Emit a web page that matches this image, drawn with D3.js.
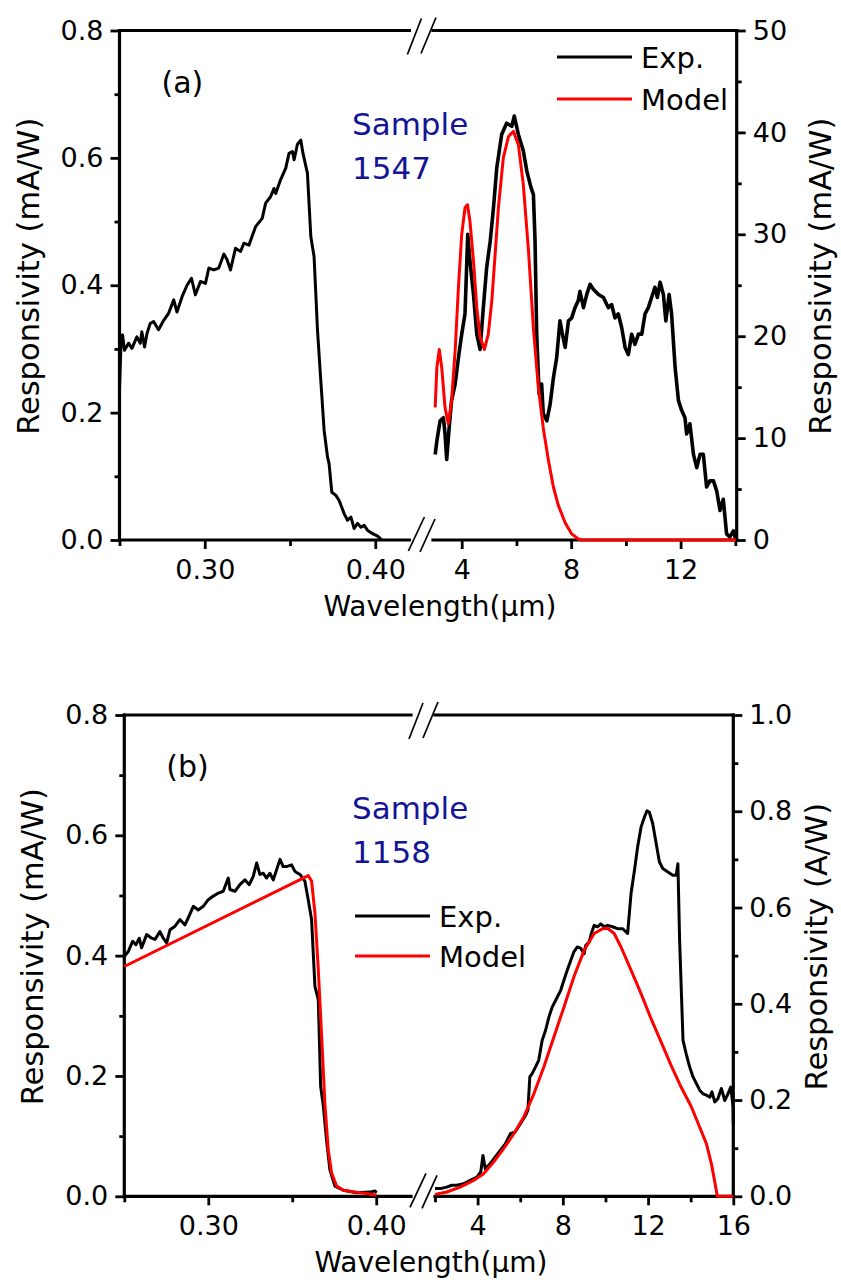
<!DOCTYPE html>
<html><head><meta charset="utf-8">
<script src="https://cdn.jsdelivr.net/npm/d3@7/dist/d3.min.js"></script>
<style>
body{margin:0;background:#fff}
svg{display:block}
text{font-family:"DejaVu Sans",Verdana,sans-serif}
</style>
</head><body>
<svg id="c" width="841" height="1280"></svg>
<script>
// ---------- Panel (a) : Sample 1547 ----------
const aUvExp = [[0.2500,0.235],[0.2510,0.319],[0.2518,0.322],[0.2529,0.298],[0.2553,0.309],[0.2573,0.301],[0.2602,0.319],[0.2622,0.309],[0.2631,0.327],[0.2647,0.303],[0.2661,0.324],[0.2680,0.340],[0.2700,0.343],[0.2729,0.330],[0.2759,0.345],[0.2788,0.356],[0.2818,0.377],[0.2837,0.358],[0.2867,0.382],[0.2896,0.400],[0.2922,0.411],[0.2945,0.385],[0.2975,0.406],[0.3004,0.403],[0.3024,0.427],[0.3053,0.424],[0.3082,0.427],[0.3112,0.449],[0.3131,0.440],[0.3151,0.424],[0.3180,0.458],[0.3210,0.453],[0.3229,0.466],[0.3259,0.463],[0.3298,0.492],[0.3337,0.505],[0.3357,0.529],[0.3386,0.539],[0.3406,0.552],[0.3416,0.544],[0.3445,0.566],[0.3475,0.584],[0.3494,0.607],[0.3514,0.610],[0.3524,0.597],[0.3543,0.621],[0.3563,0.628],[0.3576,0.607],[0.3602,0.576],[0.3622,0.476],[0.3641,0.445],[0.3661,0.330],[0.3675,0.272],[0.3700,0.172],[0.3720,0.130],[0.3729,0.120],[0.3745,0.075],[0.3769,0.070],[0.3788,0.062],[0.3818,0.041],[0.3837,0.031],[0.3857,0.036],[0.3876,0.018],[0.3896,0.026],[0.3916,0.020],[0.3935,0.023],[0.3955,0.015],[0.3984,0.010],[0.4014,0.006],[0.4039,0.000]];
const aIrExp = [[3.03,8.4],[3.09,9.7],[3.21,11.7],[3.33,12.0],[3.39,10.4],[3.45,7.9],[3.54,11.0],[3.63,13.7],[3.76,15.3],[3.88,17.9],[4.00,20.2],[4.12,22.2],[4.22,30.0],[4.30,27.4],[4.43,24.1],[4.55,20.2],[4.67,18.7],[4.79,22.8],[4.91,26.7],[5.04,29.3],[5.16,32.6],[5.28,36.5],[5.46,39.8],[5.64,40.9],[5.83,40.6],[5.92,41.6],[6.07,39.8],[6.25,38.2],[6.38,36.2],[6.53,34.6],[6.62,33.9],[6.68,29.3],[6.74,20.2],[6.83,14.3],[6.92,15.3],[6.98,12.4],[7.11,11.7],[7.23,13.3],[7.35,15.9],[7.47,17.9],[7.59,21.5],[7.68,20.2],[7.78,18.9],[7.90,21.5],[8.02,21.8],[8.14,22.8],[8.26,23.5],[8.32,24.4],[8.45,22.8],[8.57,24.1],[8.69,25.1],[8.81,24.6],[9.00,24.1],[9.18,23.8],[9.36,22.8],[9.48,23.1],[9.60,21.8],[9.72,22.2],[9.85,20.8],[9.97,18.9],[10.09,18.2],[10.21,20.2],[10.33,19.2],[10.46,20.2],[10.58,20.2],[10.70,22.2],[10.82,22.8],[10.94,23.8],[11.06,24.8],[11.15,23.8],[11.25,25.3],[11.37,24.1],[11.46,21.5],[11.58,24.1],[11.67,22.2],[11.80,16.9],[11.92,13.7],[12.04,12.7],[12.16,12.0],[12.22,10.4],[12.34,11.4],[12.47,8.4],[12.59,7.1],[12.71,8.4],[12.83,8.4],[12.95,5.2],[13.07,5.8],[13.20,5.8],[13.32,4.8],[13.44,2.9],[13.56,4.0],[13.68,0.6],[13.80,0.3],[13.93,0.9],[14.02,0.0]];
const aIrModel = [[3.03,13.0],[3.09,16.9],[3.18,18.7],[3.27,16.9],[3.39,13.0],[3.51,11.4],[3.63,13.7],[3.76,18.6],[3.88,24.8],[4.00,30.0],[4.12,32.6],[4.21,32.9],[4.30,31.3],[4.43,27.4],[4.55,22.8],[4.67,19.9],[4.83,18.7],[4.97,20.2],[5.10,23.5],[5.22,28.0],[5.34,32.6],[5.52,37.5],[5.71,39.6],[5.89,40.1],[6.07,38.8],[6.25,34.9],[6.44,28.4],[6.62,20.8],[6.80,15.0],[6.98,11.0],[7.17,7.8],[7.35,5.2],[7.53,3.4],[7.78,1.7],[8.02,0.6],[8.26,0.1],[8.38,0.0],[14.02,0.0]];

// ---------- Panel (b) : Sample 1158 ----------
const bUvExp = [[0.2500,0.399],[0.2524,0.407],[0.2550,0.424],[0.2569,0.418],[0.2589,0.429],[0.2603,0.413],[0.2633,0.435],[0.2663,0.429],[0.2683,0.427],[0.2712,0.440],[0.2732,0.429],[0.2752,0.421],[0.2772,0.443],[0.2802,0.449],[0.2831,0.460],[0.2861,0.451],[0.2881,0.463],[0.2911,0.482],[0.2940,0.476],[0.2970,0.482],[0.3000,0.493],[0.3030,0.499],[0.3060,0.504],[0.3089,0.507],[0.3119,0.529],[0.3129,0.510],[0.3159,0.507],[0.3188,0.518],[0.3218,0.526],[0.3244,0.518],[0.3268,0.532],[0.3288,0.554],[0.3307,0.535],[0.3327,0.537],[0.3347,0.529],[0.3367,0.537],[0.3387,0.526],[0.3407,0.543],[0.3427,0.560],[0.3446,0.548],[0.3466,0.548],[0.3496,0.551],[0.3516,0.540],[0.3546,0.535],[0.3575,0.524],[0.3595,0.493],[0.3615,0.460],[0.3635,0.349],[0.3655,0.327],[0.3669,0.183],[0.3685,0.150],[0.3704,0.094],[0.3724,0.044],[0.3754,0.017],[0.3804,0.010],[0.3883,0.006],[0.3962,0.007],[0.3992,0.009],[0.4002,0.006]];
const bUvModel = [[0.2500,0.382],[0.3595,0.533],[0.3615,0.524],[0.3635,0.471],[0.3655,0.377],[0.3675,0.266],[0.3694,0.155],[0.3714,0.078],[0.3734,0.039],[0.3764,0.017],[0.3804,0.010],[0.3903,0.006],[0.4002,0.002]];
const bIrExp = [[2.00,0.016],[2.24,0.016],[2.55,0.019],[2.79,0.023],[3.02,0.023],[3.34,0.026],[3.65,0.033],[3.97,0.040],[4.15,0.051],[4.25,0.085],[4.36,0.057],[4.59,0.068],[4.83,0.082],[5.07,0.096],[5.30,0.109],[5.54,0.130],[5.77,0.134],[6.01,0.151],[6.25,0.168],[6.36,0.179],[6.45,0.248],[6.56,0.255],[6.72,0.269],[6.87,0.283],[7.03,0.324],[7.19,0.345],[7.35,0.373],[7.50,0.393],[7.74,0.414],[7.90,0.428],[8.05,0.449],[8.21,0.470],[8.37,0.490],[8.52,0.508],[8.68,0.518],[8.84,0.515],[9.00,0.504],[9.07,0.521],[9.23,0.528],[9.34,0.546],[9.47,0.563],[9.63,0.560],[9.78,0.566],[9.94,0.560],[10.10,0.563],[10.33,0.560],[10.57,0.556],[10.81,0.556],[11.04,0.546],[11.20,0.629],[11.36,0.677],[11.51,0.726],[11.67,0.767],[11.83,0.788],[11.95,0.801],[12.06,0.798],[12.22,0.774],[12.38,0.733],[12.53,0.695],[12.69,0.681],[12.93,0.674],[13.16,0.667],[13.32,0.667],[13.40,0.691],[13.48,0.532],[13.64,0.324],[13.79,0.296],[13.95,0.269],[14.11,0.248],[14.27,0.234],[14.43,0.220],[14.58,0.213],[14.74,0.210],[14.90,0.206],[15.00,0.217],[15.13,0.196],[15.28,0.203],[15.44,0.224],[15.60,0.199],[15.75,0.213],[15.88,0.227],[15.99,0.186],[16.00,0.151]];
const bIrModel = [[2.00,0.004],[2.55,0.009],[3.18,0.019],[3.81,0.033],[4.28,0.047],[4.75,0.071],[5.22,0.099],[5.70,0.130],[6.17,0.165],[6.64,0.213],[7.11,0.269],[7.58,0.331],[8.05,0.393],[8.52,0.456],[9.00,0.511],[9.47,0.546],[9.86,0.556],[10.10,0.557],[10.41,0.546],[10.73,0.518],[11.20,0.470],[11.67,0.421],[12.14,0.369],[12.61,0.321],[13.08,0.272],[13.55,0.227],[14.03,0.186],[14.42,0.144],[14.74,0.109],[14.97,0.068],[15.13,0.030],[15.25,0.000],[16.00,0.000]];

// ---------- Tick values / labels ----------
const uvMajorTicks = [0.30, 0.40];
const uvMinorTicks = [0.25, 0.35];
const aIrMajorTicks = [4, 8, 12];
const aIrMinorTicks = [6, 10, 14];
const bIrMajorTicks = [4, 8, 12, 16];
const bIrMinorTicks = [2, 6, 10, 14];
const leftYMajor = [0, 0.2, 0.4, 0.6, 0.8];
const leftYMinor = [0.1, 0.3, 0.5, 0.7];
const aRightYMajor = [0, 10, 20, 30, 40, 50];
const aRightYMinor = [5, 15, 25, 35, 45];
const bRightYMajor = [0, 0.2, 0.4, 0.6, 0.8, 1.0];
const bRightYMinor = [0.1, 0.3, 0.5, 0.7, 0.9];
const legendLabels = ["Exp.", "Model"];
const seriesColors = ["#000000", "#ff0000"];

const svg = d3.select("#c");

function drawPanel(cfg) {
  const g = svg.append("g");
  const xL = d3.scaleLinear().domain(cfg.xLdom).range([cfg.left, cfg.breakL]);
  const xR = d3.scaleLinear().domain(cfg.xRdom).range([cfg.breakR, cfg.right]);
  const yL = d3.scaleLinear().domain([0, 0.8]).range([cfg.bottom, cfg.top]);
  const yR = d3.scaleLinear().domain(cfg.yRdom).range([cfg.bottom, cfg.top]);

  function styleAxis(sel) {
    sel.select(".domain").remove();
    sel.selectAll("line").attr("stroke", "#000").attr("stroke-width", 2.8);
    sel.selectAll("text").attr("font-size", 27).attr("font-family", '"DejaVu Sans",Verdana,sans-serif').attr("fill", "#000");
  }
  // left y axis
  g.append("g").attr("transform", `translate(${cfg.left},0)`)
    .call(d3.axisLeft(yL).tickValues(leftYMajor).tickSize(9).tickPadding(7).tickFormat(d3.format(".1f"))).call(styleAxis);
  g.append("g").attr("transform", `translate(${cfg.left},0)`)
    .call(d3.axisLeft(yL).tickValues(leftYMinor).tickSize(5).tickFormat("")).call(styleAxis);
  // right y axis
  g.append("g").attr("transform", `translate(${cfg.right},0)`)
    .call(d3.axisRight(yR).tickValues(cfg.rMajor).tickSize(9).tickPadding(7).tickFormat(cfg.rFmt)).call(styleAxis);
  g.append("g").attr("transform", `translate(${cfg.right},0)`)
    .call(d3.axisRight(yR).tickValues(cfg.rMinor).tickSize(5).tickFormat("")).call(styleAxis);
  // bottom x axes
  g.append("g").attr("transform", `translate(0,${cfg.bottom})`)
    .call(d3.axisBottom(xL).tickValues(uvMajorTicks).tickSize(9).tickPadding(11).tickFormat(d3.format(".2f"))).call(styleAxis);
  g.append("g").attr("transform", `translate(0,${cfg.bottom})`)
    .call(d3.axisBottom(xL).tickValues(uvMinorTicks).tickSize(6).tickFormat("")).call(styleAxis);
  g.append("g").attr("transform", `translate(0,${cfg.bottom})`)
    .call(d3.axisBottom(xR).tickValues(cfg.irMajor).tickSize(9).tickPadding(11).tickFormat(d3.format("d"))).call(styleAxis);
  g.append("g").attr("transform", `translate(0,${cfg.bottom})`)
    .call(d3.axisBottom(xR).tickValues(cfg.irMinor).tickSize(6).tickFormat("")).call(styleAxis);

  // frame lines with breaks
  const frame = [
    [cfg.left, cfg.top, cfg.left, cfg.bottom],
    [cfg.right, cfg.top, cfg.right, cfg.bottom],
    [cfg.left, cfg.bottom, cfg.breakL, cfg.bottom],
    [cfg.breakR, cfg.bottom, cfg.right, cfg.bottom],
    [cfg.left, cfg.top, cfg.breakL, cfg.top],
    [cfg.breakR, cfg.top, cfg.right, cfg.top]
  ];
  g.selectAll("line.frame").data(frame).join("line").attr("class", "frame")
    .attr("x1", d => d[0]).attr("y1", d => d[1]).attr("x2", d => d[2]).attr("y2", d => d[3])
    .attr("stroke", "#000").attr("stroke-width", 3.2).attr("stroke-linecap", "square");
  // break slashes
  const bl = cfg.breakL, br = cfg.breakR, t = cfg.top, b = cfg.bottom;
  const slashes = [
    [bl - 2, t + 24, bl + 12, t - 12], [br - 12, t + 23, br + 3, t - 13],
    [bl - 1, b + 11, bl + 15, b - 23], [br - 13, b + 12, br + 2, b - 21]
  ];
  g.selectAll("line.slash").data(slashes).join("line").attr("class", "slash")
    .attr("x1", d => d[0]).attr("y1", d => d[1]).attr("x2", d => d[2]).attr("y2", d => d[3])
    .attr("stroke", "#000").attr("stroke-width", 1.7);

  // data lines
  const lineL = d3.line().x(d => xL(d[0])).y(d => yL(d[1]));
  const lineR = d3.line().x(d => xR(d[0])).y(d => yR(d[1]));
  cfg.uvSeries.forEach(s => {
    g.append("path").datum(s.data).attr("d", lineL).attr("fill", "none")
      .attr("stroke", seriesColors[s.c]).attr("stroke-width", 3).attr("stroke-linejoin", "round");
  });
  cfg.irSeries.forEach(s => {
    g.append("path").datum(s.data).attr("d", lineR).attr("fill", "none")
      .attr("stroke", seriesColors[s.c]).attr("stroke-width", s.c === 0 ? cfg.irExpW : 3).attr("stroke-linejoin", "round");
  });

  // axis titles
  const ymid = (cfg.top + cfg.bottom) / 2 - 9;
  g.append("text").attr("transform", `translate(${cfg.left - 81},${ymid}) rotate(-90)`)
    .attr("text-anchor", "middle").attr("font-size", 30.5).text("Responsivity (mA/W)");
  g.append("text").attr("transform", `translate(${cfg.right + 94},${ymid}) rotate(-90)`)
    .attr("text-anchor", "middle").attr("font-size", 30.5).text(cfg.rTitle);
  g.append("text").attr("x", cfg.xTitleX).attr("y", cfg.bottom + 76)
    .attr("text-anchor", "middle").attr("font-size", 28).text("Wavelength(\u03BCm)");

  // panel label & sample
  g.append("text").attr("x", cfg.left + 42).attr("y", cfg.top + 62).attr("font-size", 30).text(cfg.tag);
  g.append("text").attr("x", 352).attr("y", cfg.top + 104).attr("font-size", 31).attr("fill", "#141496").text("Sample");
  g.append("text").attr("x", 352).attr("y", cfg.top + 148).attr("font-size", 31).attr("fill", "#141496").text(cfg.sample);

  // legend
  legendLabels.forEach((lab, i) => {
    const ly = cfg.legY + i * cfg.legGap;
    g.append("line").attr("x1", cfg.legX).attr("x2", cfg.legX + 75).attr("y1", ly).attr("y2", ly)
      .attr("stroke", seriesColors[i]).attr("stroke-width", 3);
    g.append("text").attr("x", cfg.legX + 84).attr("y", ly + 11).attr("font-size", 29).text(lab);
  });
}

drawPanel({
  left: 119.5, right: 736.7, top: 30.5, bottom: 540,
  breakL: 409.4, breakR: 433,
  xLdom: [0.25, 0.42], xRdom: [2.95, 14.05], yRdom: [0, 50],
  rMajor: aRightYMajor, rMinor: aRightYMinor, rFmt: d3.format("d"),
  irMajor: aIrMajorTicks, irMinor: aIrMinorTicks,
  rTitle: "Responsivity (mA/W)", xTitleX: 440,
  tag: "(a)", sample: "1547", irExpW: 3.6,
  legX: 557, legY: 57, legGap: 42,
  uvSeries: [{data: aUvExp, c: 0}],
  irSeries: [{data: aIrExp, c: 0}, {data: aIrModel, c: 1}]
});
drawPanel({
  left: 124.3, right: 733.3, top: 715, bottom: 1196.3,
  breakL: 411, breakR: 435,
  xLdom: [0.25, 0.4207], xRdom: [2, 16], yRdom: [0, 1.0],
  rMajor: bRightYMajor, rMinor: bRightYMinor, rFmt: d3.format(".1f"),
  irMajor: bIrMajorTicks, irMinor: bIrMinorTicks,
  rTitle: "Responsivity (A/W)", xTitleX: 431,
  tag: "(b)", sample: "1158", irExpW: 3,
  legX: 355, legY: 916, legGap: 40,
  uvSeries: [{data: bUvExp, c: 0}, {data: bUvModel, c: 1}],
  irSeries: [{data: bIrExp, c: 0}, {data: bIrModel, c: 1}]
});
</script>
</body></html>
